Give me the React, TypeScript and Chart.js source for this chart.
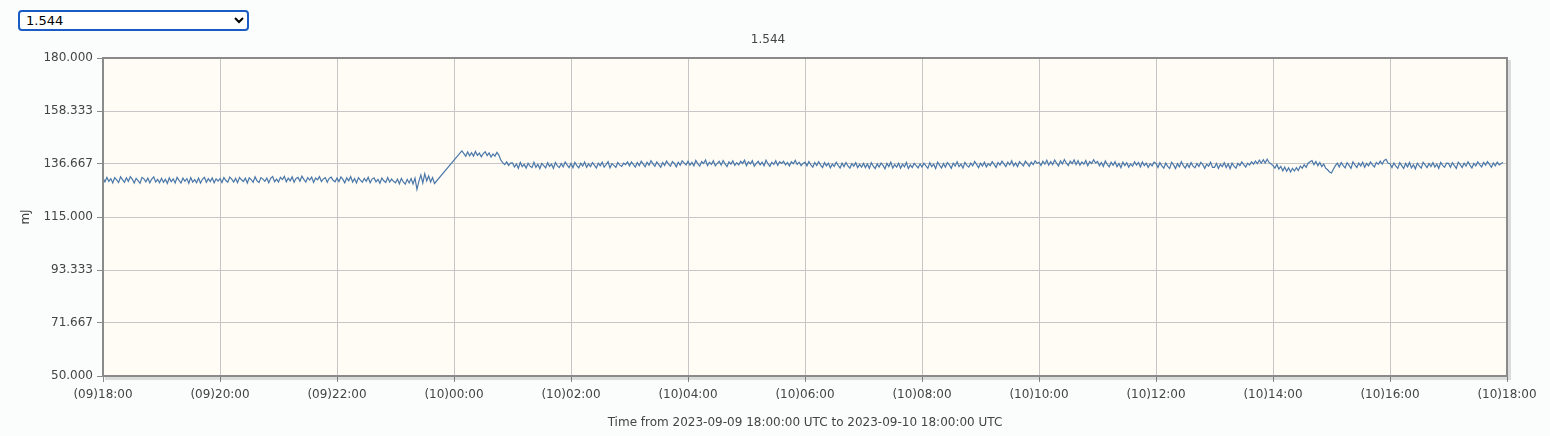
import React, { useEffect, useRef } from "react";
import { Chart, registerables } from "chart.js";

Chart.register(...registerables);

// ---- data ----
const chartTitle = "1.544";
const yAxisTitle = "mJ";
const xAxisTitle = "Time from 2023-09-09 18:00:00 UTC to 2023-09-10 18:00:00 UTC";

const sampleStepMinutes = 2;

// segment 1: (09)18:00 -> (09)23:40, minutes from 18:00 (one row per hour)
const segment1StartMinute = 0;
const segment1Values = [
  130.9, 129.4, 131.2, 129.6, 130.7, 128.9, 131.1, 130.2, 129.1, 131.4, 130.3, 129.2, 131.0, 129.6, 131.5, 130.5, 128.9, 130.8, 129.9, 128.8, 131.2, 130.6, 129.4, 130.9, 129.0, 130.5, 131.4, 129.3, 130.4, 129.0,
  130.8, 129.2, 130.4, 128.7, 131.0, 129.5, 130.6, 128.9, 131.2, 130.0, 128.9, 130.9, 129.6, 130.7, 128.8, 131.1, 129.3, 130.3, 129.0, 130.9, 128.9, 130.4, 131.2, 129.2, 130.7, 129.5, 131.0, 129.0, 130.6, 129.7,
  130.7, 129.1, 131.1, 129.9, 129.2, 131.3, 130.5, 129.3, 130.8, 129.0, 131.2, 130.2, 129.5, 130.9, 128.9, 131.0, 130.3, 129.2, 131.4, 129.8, 129.1, 131.1, 130.5, 129.6, 130.9, 129.0, 130.8, 131.5, 129.4, 130.5,
  129.3, 131.2, 130.3, 131.6, 129.4, 130.9, 129.8, 131.4, 129.2, 130.8, 131.2, 129.6, 131.7, 130.4, 129.3, 131.1, 130.1, 131.3, 129.1, 130.9, 130.2, 131.5, 129.5, 130.6, 131.1, 129.2, 130.8, 131.3, 130.0, 129.4,
  130.9, 129.5, 131.4, 130.4, 129.0, 131.0, 129.8, 131.5, 129.3, 130.7, 128.9, 131.1, 130.1, 129.2, 130.8, 129.6, 131.2, 129.0, 130.5, 131.0, 129.4, 130.4, 128.8, 130.9, 129.8, 129.1, 131.1, 129.3, 130.5, 129.6,
  129.0, 130.5, 128.6, 130.8, 129.3, 128.4, 130.4, 128.9, 130.7, 128.5, 130.9, 126.3, 129.6, 132.2, 128.9, 132.7, 129.8, 131.8, 129.3, 131.1, 128.7,
];

// segment 2: (10)00:08 -> (10)17:56
const segment2StartMinute = 368;
const segment2Values = [
  142.0, 141.0, 139.8, 141.6, 140.0, 141.3, 139.9, 141.8, 140.2, 141.1, 139.6, 140.9, 141.7, 140.1, 141.2, 139.5, 140.8, 139.9, 141.4, 140.3, 138.3, 137.2, 136.4, 137.5, 136.1, 137.0,
  137.1, 135.4, 136.7, 134.9, 137.3, 135.6, 136.5, 135.0, 137.0, 135.8, 135.2, 137.4, 135.3, 136.6, 134.8, 136.9, 136.0, 135.1, 137.2, 135.7, 136.6, 134.9, 137.3, 135.9, 135.2, 136.9, 135.5, 137.5, 136.3, 135.2,
  136.9, 135.2, 137.3, 136.0, 135.1, 137.0, 135.8, 137.5, 135.3, 136.7, 135.6, 137.2, 136.2, 135.0, 137.0, 135.9, 137.4, 135.4, 136.4, 137.6, 135.1, 136.8, 136.1, 135.3, 137.3, 136.2, 135.7, 137.0, 136.4, 137.5,
  135.9, 137.5, 136.4, 135.4, 137.3, 136.0, 137.8, 136.7, 135.5, 137.4, 136.2, 138.0, 136.8, 135.7, 137.5, 136.4, 135.3, 137.3, 136.1, 137.9, 136.6, 135.8, 137.7, 136.9, 135.5, 137.4, 136.2, 138.0, 137.1, 136.3,
  137.8, 136.2, 137.3, 135.9, 138.1, 136.8, 135.8, 137.7, 136.9, 138.3, 136.0, 137.4, 136.5, 138.0, 135.9, 136.9, 137.8, 136.2, 138.1, 136.7, 135.6, 137.5, 136.6, 138.0, 136.1, 137.2, 136.3, 137.8, 136.9, 138.2,
  136.0, 137.6, 136.7, 138.0, 135.8, 136.9, 137.8, 136.3, 137.4, 135.9, 138.2, 136.8, 135.7, 137.4, 136.5, 138.0, 136.1, 137.6, 136.9, 137.8, 136.3, 137.3, 135.9, 137.6, 136.8, 138.2, 136.5, 137.4, 136.0, 136.9,
  137.4, 135.9, 137.7, 136.3, 135.4, 137.3, 136.0, 137.6, 136.2, 135.2, 137.2, 135.9, 137.0, 135.1, 136.6, 135.7, 137.4, 136.1, 135.0, 137.0, 135.6, 137.3, 135.9, 135.0, 136.8, 135.8, 137.2, 135.2, 136.5, 135.4,
  136.9, 135.2, 136.7, 134.9, 137.2, 135.8, 134.8, 136.7, 135.4, 137.0, 136.1, 134.7, 136.9, 135.6, 137.4, 135.0, 136.4, 135.4, 137.0, 134.9, 136.6, 135.5, 137.3, 134.8, 136.3, 135.2, 136.9, 136.0, 135.1, 136.7,
  135.4, 137.0, 135.9, 134.9, 137.2, 135.6, 136.6, 134.8, 137.4, 136.2, 135.0, 136.8, 135.4, 137.2, 136.3, 134.9, 137.0, 135.8, 137.6, 135.6, 136.6, 135.0, 137.3, 136.1, 135.4, 137.0, 135.9, 137.7, 136.5, 135.2,
  137.0, 135.8, 137.4, 135.5, 136.8, 136.0, 137.6, 136.5, 135.3, 137.3, 136.2, 137.8, 136.7, 135.6, 137.4, 136.3, 138.0, 135.9, 137.1, 135.6, 137.6, 136.7, 135.9, 137.8, 136.9, 135.7, 137.4, 136.4, 138.0, 137.0,
  137.4, 136.1, 137.8, 136.6, 138.2, 136.2, 137.6, 136.4, 138.3, 137.0, 135.9, 138.0, 136.7, 138.5, 137.1, 136.0, 137.8, 136.8, 138.3, 136.4, 138.0, 136.2, 137.5, 136.6, 138.1, 136.0, 137.7, 136.9, 138.4, 137.1,
  137.7, 136.0, 137.3, 135.7, 137.9, 136.5, 135.5, 137.4, 136.1, 137.6, 135.6, 136.9, 135.2, 137.4, 136.0, 137.2, 135.4, 136.7, 135.8, 137.6, 136.2, 137.3, 135.5, 137.5, 136.0, 137.0, 135.3, 136.8, 135.9, 137.4,
  136.9, 135.2, 137.2, 135.9, 135.0, 137.0, 135.7, 134.9, 137.4, 136.3, 134.8, 136.8, 135.5, 137.6, 136.0, 135.0, 136.7, 135.3, 137.2, 135.8, 135.1, 136.9, 135.6, 137.3, 136.4, 134.9, 136.6, 135.8, 137.4, 135.3,
  135.3, 136.9, 134.8, 136.5, 135.6, 137.2, 135.2, 136.7, 134.7, 137.0, 135.8, 135.0, 136.9, 136.0, 137.5, 136.4, 135.4, 137.0, 136.2, 137.6, 136.6, 137.9, 136.8, 138.2, 137.0, 138.4, 137.1, 138.6, 137.3, 136.7,
  136.0, 135.0, 136.5, 134.6, 135.7, 133.9, 135.4, 133.7, 135.1, 133.4, 134.9, 133.8, 135.2, 134.0, 135.8, 134.9, 136.4, 135.3, 137.0, 137.6, 138.1, 136.4, 137.7, 136.0, 137.3, 135.6, 136.6, 135.0, 134.3, 133.4,
  133.0, 134.6, 136.0, 137.0, 135.4, 137.3, 136.0, 135.1, 137.2, 136.1, 134.9, 137.5, 136.3, 135.2, 137.1, 135.8, 137.4, 135.3, 136.9, 135.9, 137.5, 136.3, 135.5, 137.3, 136.5, 137.8, 136.6, 138.1, 138.6, 137.1,
  136.8, 135.2, 137.1, 135.8, 134.9, 137.2, 136.0, 134.8, 136.9, 135.5, 137.3, 135.1, 136.4, 134.7, 137.0, 135.9, 135.0, 137.4, 136.3, 135.2, 136.9, 135.6, 137.2, 135.4, 136.6, 134.9, 137.3, 136.1, 135.3, 137.0,
  136.9, 135.3, 137.2, 136.0, 134.9, 137.4, 136.4, 135.2, 137.0, 135.8, 137.6, 136.2, 135.0, 136.9, 135.9, 137.5, 136.4, 135.5, 137.3, 136.2, 137.6, 136.5, 135.3, 137.1, 135.9, 137.4, 136.3, 136.9, 137.3,
];

const yTickValues = [50, 71.667, 93.333, 115, 136.667, 158.333, 180];
const xTickMinutes = [0, 120, 240, 360, 480, 600, 720, 840, 960, 1080, 1200, 1320, 1440];
const xTickLabels = [
  "(09)18:00", "(09)20:00", "(09)22:00", "(10)00:00", "(10)02:00", "(10)04:00", "(10)06:00",
  "(10)08:00", "(10)10:00", "(10)12:00", "(10)14:00", "(10)16:00", "(10)18:00",
];
const selectOptions = ["1.544"];

// ---- styles ----
const FONT = "'DejaVu Sans', Verdana, sans-serif";
const TEXT = "#444444";
const GRID = "#c6c6c6";
const FRAME = "#8a8a8a";
const PLOT_BG = "#fffcf5";
const LINE = "#4a77a9";

const frameBgPlugin = {
  id: "frameBg",
  beforeDraw(chart: any) {
    const { ctx, chartArea: a } = chart;
    ctx.save();
    ctx.fillStyle = PLOT_BG;
    ctx.fillRect(a.left, a.top, a.right - a.left, a.bottom - a.top);
    ctx.restore();
  },
  afterDraw(chart: any) {
    const { ctx, chartArea: a } = chart;
    ctx.save();
    ctx.strokeStyle = "rgba(0,0,0,0.13)";
    ctx.lineWidth = 3;
    ctx.beginPath();
    ctx.moveTo(a.right + 2.5, a.top + 2);
    ctx.lineTo(a.right + 2.5, a.bottom + 2.5);
    ctx.lineTo(a.left + 2, a.bottom + 2.5);
    ctx.stroke();
    ctx.strokeStyle = FRAME;
    ctx.lineWidth = 2;
    ctx.strokeRect(a.left, a.top, a.right - a.left, a.bottom - a.top);
    ctx.restore();
  },
};

export default function App() {
  const canvasRef = useRef<HTMLCanvasElement | null>(null);

  useEffect(() => {
    document.body.style.background = "#fbfdfd";
    const points = [
      ...segment1Values.map((v, i) => ({ x: segment1StartMinute + i * sampleStepMinutes, y: v })),
      ...segment2Values.map((v, i) => ({ x: segment2StartMinute + i * sampleStepMinutes, y: v })),
    ];
    const chart = new Chart(canvasRef.current as HTMLCanvasElement, {
      type: "line",
      data: {
        datasets: [
          {
            data: points,
            borderColor: LINE,
            borderWidth: 1.2,
            pointRadius: 0,
            tension: 0,
            fill: false,
          },
        ],
      },
      options: {
        animation: false,
        responsive: false,
        devicePixelRatio: 1,
        layout: { padding: { top: 0, left: 29, right: 29, bottom: 2 } },
        plugins: {
          legend: { display: false },
          tooltip: { enabled: false },
          title: {
            display: true,
            text: chartTitle,
            color: TEXT,
            font: { family: FONT, size: 12, weight: "normal", lineHeight: 1.2 },
            padding: { top: 3, bottom: 10.6 },
          },
        },
        scales: {
          x: {
            type: "linear",
            min: 0,
            max: 1440,
            border: { display: false },
            grid: { color: GRID, lineWidth: 1, tickLength: 6, tickColor: FRAME, drawTicks: true },
            ticks: {
              color: TEXT,
              font: { family: FONT, size: 12 },
              padding: 6,
              maxRotation: 0,
              autoSkip: false,
              callback: (value: any) => {
                const idx = xTickMinutes.indexOf(Number(value));
                return idx >= 0 ? xTickLabels[idx] : "";
              },
            },
            afterBuildTicks: (scale: any) => {
              scale.ticks = xTickMinutes.map((v) => ({ value: v }));
            },
            afterFit: (scale: any) => {
              scale.height = 58;
              scale.paddingLeft = 0;
              scale.paddingRight = 0;
            },
            title: {
              display: true,
              text: xAxisTitle,
              color: TEXT,
              font: { family: FONT, size: 12, lineHeight: 1.2 },
              padding: { top: 4, bottom: 4 },
            },
          },
          y: {
            type: "linear",
            min: 50,
            max: 180,
            border: { display: false },
            grid: { color: GRID, lineWidth: 1, tickLength: 6, tickColor: FRAME, drawTicks: true },
            ticks: {
              color: TEXT,
              font: { family: FONT, size: 12 },
              padding: 4,
              callback: (value: any) => Number(value).toFixed(3),
            },
            afterBuildTicks: (scale: any) => {
              scale.ticks = yTickValues.map((v) => ({ value: v }));
            },
            afterFit: (scale: any) => {
              scale.width = 74;
              scale.paddingTop = 0;
              scale.paddingBottom = 0;
            },
            title: {
              display: true,
              text: yAxisTitle,
              color: TEXT,
              font: { family: FONT, size: 12, lineHeight: 1.2 },
              padding: { top: -10, bottom: 4 },
            },
          },
        },
      },
      plugins: [frameBgPlugin],
    });
    return () => chart.destroy();
  }, []);

  return (
    <div style={{ position: "absolute", left: 0, top: 0, width: 1550, height: 436 }}>
      <select
        defaultValue={selectOptions[0]}
        style={{
          position: "absolute",
          left: 18,
          top: 10,
          width: 231,
          height: 21,
          boxSizing: "border-box",
          border: "2px solid #1b5cc4",
          borderRadius: 4,
          background: "#ffffff",
          color: "#000",
          fontSize: 13,
          fontFamily: FONT,
          padding: "0 2px",
        }}
      >
        {selectOptions.map((o) => (
          <option key={o} value={o}>
            {o}
          </option>
        ))}
      </select>
      <canvas
        ref={canvasRef}
        width={1536}
        height={406}
        style={{ position: "absolute", left: 0, top: 30, width: 1536, height: 406 }}
      />
    </div>
  );
}
